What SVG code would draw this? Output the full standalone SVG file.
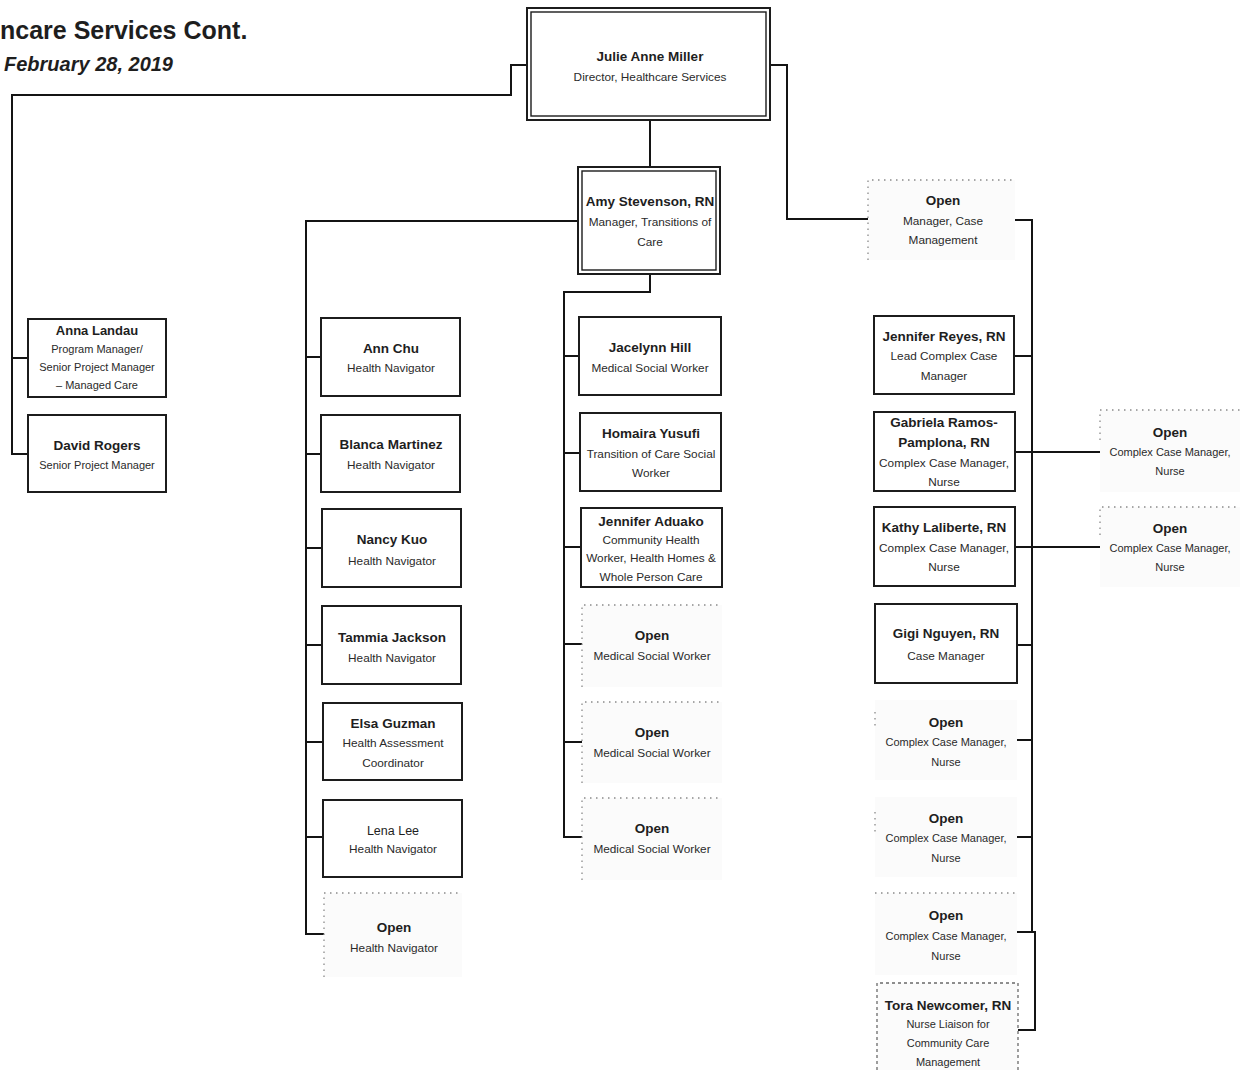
<svg xmlns="http://www.w3.org/2000/svg" width="1246" height="1070" viewBox="0 0 1246 1070">
  <defs>
    <style>
      .bg { fill: #ffffff; }
      .box { fill: #ffffff; stroke: #1c1c1c; stroke-width: 2; }
      .inner { fill: none; stroke: #1c1c1c; stroke-width: 1.4; }
      .vac { fill: #fbfbfb; stroke: none; }
      .dots { fill: none; stroke: #8a8a8a; stroke-width: 1.3; stroke-dasharray: 1.5 4.5; }
      .dash { fill: none; stroke: #6a6a6a; stroke-width: 1.3; stroke-dasharray: 3 3; }
      .conn { fill: none; stroke: #141414; stroke-width: 2; }
      .nm { font-family: "Liberation Sans", Arial, sans-serif; font-weight: bold; font-size: 13.5px; fill: #1e1e1e; text-anchor: middle; }
      .nl { font-family: "Liberation Sans", Arial, sans-serif; font-size: 12.5px; fill: #1e1e1e; text-anchor: middle; }
      .tt { font-family: "Liberation Sans", Arial, sans-serif; font-size: 11.8px; fill: #2a2a2a; text-anchor: middle; }
      .ts { font-family: "Liberation Sans", Arial, sans-serif; font-size: 11px; fill: #2a2a2a; text-anchor: middle; }
      .title { font-family: "Liberation Sans", Arial, sans-serif; font-weight: bold; font-size: 25px; fill: #1e1e1e; }
      .date { font-family: "Liberation Sans", Arial, sans-serif; font-weight: bold; font-style: italic; font-size: 20px; fill: #1e1e1e; }
    </style>
  </defs>

  <rect class="bg" x="0" y="0" width="1246" height="1070"/>

  <!-- heading -->
  <g id="heading">
    <text class="title" x="0" y="39">ncare Services Cont.</text>
    <text class="date" x="4" y="71">February 28, 2019</text>
  </g>

  <!-- reporting lines -->
  <g id="connectors">
    <!-- director to program staff -->
    <path class="conn" d="M527,65 H511 V95 H12 V454 H28"/>
    <path class="conn" d="M12,358 H28"/>
    <!-- director to case management -->
    <path class="conn" d="M770,65 H787 V219 H868"/>
    <!-- director to transitions of care -->
    <path class="conn" d="M650,120 V167"/>
    <!-- transitions of care: health navigators -->
    <path class="conn" d="M578,221 H306 V934 H324"/>
    <path class="conn" d="M306,357 H321 M306,454 H321 M306,548 H322 M306,645 H322 M306,742 H323 M306,837 H323"/>
    <!-- transitions of care: social workers -->
    <path class="conn" d="M650,274 V292 H564 V837 H582"/>
    <path class="conn" d="M564,356 H579 M564,453 H580 M564,547 H581 M564,644 H582 M564,742 H582"/>
    <!-- case management -->
    <path class="conn" d="M1015,220 H1032 V932 H1035 V1030 H1018"/>
    <path class="conn" d="M1014,356 H1032 M1015,452 H1100 M1015,547 H1100 M1017,645 H1032 M1017,740 H1032 M1017,837 H1032 M1017,932 H1034"/>
  </g>

  <!-- director -->
  <g id="julie-anne-miller">
    <rect class="box" x="527" y="8" width="243" height="112"/>
    <rect class="inner" x="531" y="12" width="235" height="104"/>
    <text class="nm" x="650" y="61">Julie Anne Miller</text>
    <text class="tt" x="650" y="81">Director, Healthcare Services</text>
  </g>

  <!-- program management -->
  <g id="anna-landau">
    <rect class="box" x="28" y="319" width="138" height="78"/>
    <text class="nm" x="97" y="335" style="font-size:13px">Anna Landau</text>
    <text class="ts" x="97" y="353">Program Manager/</text>
    <text class="ts" x="97" y="371">Senior Project Manager</text>
    <text class="ts" x="97" y="389">– Managed Care</text>
  </g>
  <g id="david-rogers">
    <rect class="box" x="28" y="415" width="138" height="77"/>
    <text class="nm" x="97" y="450">David Rogers</text>
    <text class="ts" x="97" y="469">Senior Project Manager</text>
  </g>

  <!-- transitions of care manager -->
  <g id="amy-stevenson">
    <rect class="box" x="578" y="167" width="142" height="107"/>
    <rect class="inner" x="582" y="171" width="134" height="99"/>
    <text class="nm" x="650" y="206">Amy Stevenson, RN</text>
    <text class="tt" x="650" y="226">Manager, Transitions of</text>
    <text class="tt" x="650" y="246">Care</text>
  </g>

  <!-- health navigators -->
  <g id="ann-chu">
    <rect class="box" x="321" y="318" width="139" height="78"/>
    <text class="nm" x="391" y="353">Ann Chu</text>
    <text class="tt" x="391" y="372">Health Navigator</text>
  </g>
  <g id="blanca-martinez">
    <rect class="box" x="321" y="415" width="139" height="77"/>
    <text class="nm" x="391" y="449">Blanca Martinez</text>
    <text class="tt" x="391" y="469">Health Navigator</text>
  </g>
  <g id="nancy-kuo">
    <rect class="box" x="322" y="509" width="139" height="78"/>
    <text class="nm" x="392" y="544">Nancy Kuo</text>
    <text class="tt" x="392" y="565">Health Navigator</text>
  </g>
  <g id="tammia-jackson">
    <rect class="box" x="322" y="606" width="139" height="78"/>
    <text class="nm" x="392" y="642">Tammia Jackson</text>
    <text class="tt" x="392" y="662">Health Navigator</text>
  </g>
  <g id="elsa-guzman">
    <rect class="box" x="323" y="703" width="139" height="77"/>
    <text class="nm" x="393" y="728">Elsa Guzman</text>
    <text class="tt" x="393" y="747">Health Assessment</text>
    <text class="tt" x="393" y="767">Coordinator</text>
  </g>
  <g id="lena-lee">
    <rect class="box" x="323" y="800" width="139" height="77"/>
    <text class="nl" x="393" y="835">Lena Lee</text>
    <text class="tt" x="393" y="853">Health Navigator</text>
  </g>
  <g id="open-health-navigator">
    <rect class="vac" x="324" y="893" width="138" height="84"/>
    <path class="dots" d="M324,977 V893 H462"/>
    <text class="nm" x="394" y="932">Open</text>
    <text class="tt" x="394" y="952">Health Navigator</text>
  </g>

  <!-- social workers -->
  <g id="jacelynn-hill">
    <rect class="box" x="579" y="317" width="142" height="78"/>
    <text class="nm" x="650" y="352">Jacelynn Hill</text>
    <text class="tt" x="650" y="372">Medical Social Worker</text>
  </g>
  <g id="homaira-yusufi">
    <rect class="box" x="580" y="413" width="141" height="78"/>
    <text class="nm" x="651" y="438">Homaira Yusufi</text>
    <text class="tt" x="651" y="458">Transition of Care Social</text>
    <text class="tt" x="651" y="477">Worker</text>
  </g>
  <g id="jennifer-aduako">
    <rect class="box" x="581" y="508" width="141" height="79"/>
    <text class="nm" x="651" y="526">Jennifer Aduako</text>
    <text class="tt" x="651" y="544">Community Health</text>
    <text class="tt" x="651" y="562">Worker, Health Homes &amp;</text>
    <text class="tt" x="651" y="581">Whole Person Care</text>
  </g>
  <g id="open-social-worker-1">
    <rect class="vac" x="582" y="605" width="140" height="82"/>
    <path class="dots" d="M582,687 V605 H722"/>
    <text class="nm" x="652" y="640">Open</text>
    <text class="tt" x="652" y="660">Medical Social Worker</text>
  </g>
  <g id="open-social-worker-2">
    <rect class="vac" x="582" y="702" width="140" height="81"/>
    <path class="dots" d="M582,783 V702 H722"/>
    <text class="nm" x="652" y="737">Open</text>
    <text class="tt" x="652" y="757">Medical Social Worker</text>
  </g>
  <g id="open-social-worker-3">
    <rect class="vac" x="582" y="798" width="140" height="82"/>
    <path class="dots" d="M582,880 V798 H722"/>
    <text class="nm" x="652" y="833">Open</text>
    <text class="tt" x="652" y="853">Medical Social Worker</text>
  </g>

  <!-- case management manager -->
  <g id="open-case-management-manager">
    <rect class="vac" x="868" y="180" width="147" height="80"/>
    <path class="dots" d="M868,260 V180 H1015"/>
    <text class="nm" x="943" y="205">Open</text>
    <text class="tt" x="943" y="225">Manager, Case</text>
    <text class="tt" x="943" y="244">Management</text>
  </g>

  <!-- case managers -->
  <g id="jennifer-reyes">
    <rect class="box" x="874" y="316" width="140" height="78"/>
    <text class="nm" x="944" y="341">Jennifer Reyes, RN</text>
    <text class="tt" x="944" y="360">Lead Complex Case</text>
    <text class="tt" x="944" y="380">Manager</text>
  </g>
  <g id="gabriela-ramos-pamplona">
    <rect class="box" x="874" y="412" width="141" height="79"/>
    <text class="nm" x="944" y="427">Gabriela Ramos-</text>
    <text class="nm" x="944" y="447">Pamplona, RN</text>
    <text class="tt" x="944" y="467">Complex Case Manager,</text>
    <text class="tt" x="944" y="486">Nurse</text>
  </g>
  <g id="kathy-laliberte">
    <rect class="box" x="874" y="507" width="141" height="79"/>
    <text class="nm" x="944" y="532">Kathy Laliberte, RN</text>
    <text class="tt" x="944" y="552">Complex Case Manager,</text>
    <text class="tt" x="944" y="571">Nurse</text>
  </g>
  <g id="gigi-nguyen">
    <rect class="box" x="875" y="604" width="142" height="79"/>
    <text class="nm" x="946" y="638">Gigi Nguyen, RN</text>
    <text class="tt" x="946" y="660">Case Manager</text>
  </g>
  <g id="open-complex-case-1">
    <rect class="vac" x="875" y="700" width="142" height="80"/>
    <path class="dots" d="M875,712 V730"/>
    <text class="nm" x="946" y="727">Open</text>
    <text class="ts" x="946" y="746">Complex Case Manager,</text>
    <text class="ts" x="946" y="766">Nurse</text>
  </g>
  <g id="open-complex-case-2">
    <rect class="vac" x="875" y="797" width="142" height="80"/>
    <path class="dots" d="M875,812 V832"/>
    <text class="nm" x="946" y="823">Open</text>
    <text class="ts" x="946" y="842">Complex Case Manager,</text>
    <text class="ts" x="946" y="862">Nurse</text>
  </g>
  <g id="open-complex-case-3">
    <rect class="vac" x="875" y="893" width="142" height="82"/>
    <path class="dots" d="M875,893 H1017"/>
    <text class="nm" x="946" y="920">Open</text>
    <text class="ts" x="946" y="940">Complex Case Manager,</text>
    <text class="ts" x="946" y="960">Nurse</text>
  </g>
  <g id="tora-newcomer">
    <rect class="vac" x="877" y="983" width="141" height="87"/>
    <path class="dash" d="M877,1070 V983 H1018 V1070"/>
    <text class="nm" x="948" y="1010">Tora Newcomer, RN</text>
    <text class="ts" x="948" y="1028">Nurse Liaison for</text>
    <text class="ts" x="948" y="1047">Community Care</text>
    <text class="ts" x="948" y="1066">Management</text>
  </g>

  <!-- vacancies under Gabriela and Kathy -->
  <g id="open-complex-case-4">
    <rect class="vac" x="1100" y="410" width="140" height="82"/>
    <path class="dots" d="M1100,440 V410 H1240"/>
    <text class="nm" x="1170" y="437">Open</text>
    <text class="ts" x="1170" y="456">Complex Case Manager,</text>
    <text class="ts" x="1170" y="475">Nurse</text>
  </g>
  <g id="open-complex-case-5">
    <rect class="vac" x="1100" y="507" width="140" height="80"/>
    <path class="dots" d="M1100,535 V507 H1240"/>
    <text class="nm" x="1170" y="533">Open</text>
    <text class="ts" x="1170" y="552">Complex Case Manager,</text>
    <text class="ts" x="1170" y="571">Nurse</text>
  </g>
</svg>
